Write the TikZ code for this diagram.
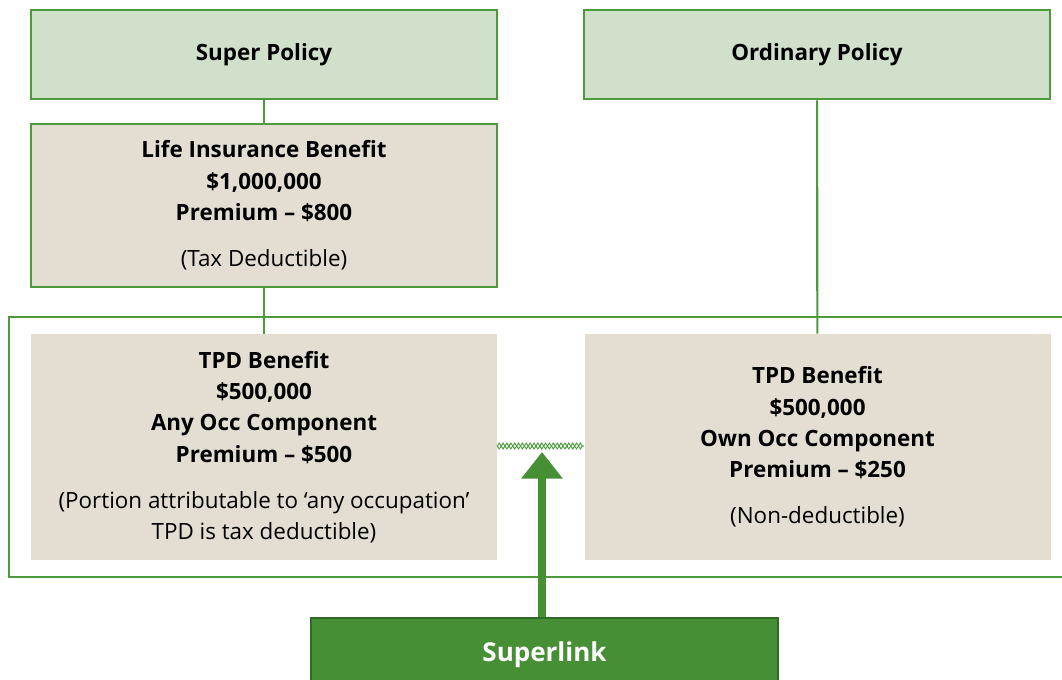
\documentclass[tikz,border=0pt]{standalone}
\usepackage{fontspec}
\setmainfont{Open Sans}
\usepackage{tikz}
\usetikzlibrary{positioning,arrows.meta,decorations.pathmorphing}

\definecolor{linegreen}{HTML}{4C9A3C}
\definecolor{palegreen}{HTML}{D1E0CB}
\definecolor{beige}{HTML}{E3DDD2}
\definecolor{darkgreen}{HTML}{478F34}
\definecolor{edgegreen}{HTML}{2F6B24}

\begin{document}
\begin{tikzpicture}[x=0.75pt,y=-0.75pt,
    txt/.style={font=\fontsize{16.8}{23.5}\selectfont, align=center},
    policy/.style={txt, rectangle, draw=linegreen, line width=1.5pt, fill=palegreen,
      minimum width=349.5pt, minimum height=66.75pt, font=\fontsize{16.8}{23.5}\selectfont\bfseries},
    benefit/.style={txt, rectangle, fill=beige, minimum width=349.5pt},
    chain/.style={linegreen, line width=0.7pt, decorate, decoration={zigzag, segment length=5.8pt, amplitude=2.2pt}},
    link/.style={linegreen, line width=1.6pt}]
    \clip (0,0) rectangle (1062,680);
    \fill[white] (0,0) rectangle (1062,680);

    % top row of policies
    \node[policy] (sup) at (264,55) {Super Policy};
    \node[policy] (ord) at (817,55) {Ordinary Policy};

    % life cover under the super policy
    \node[benefit, draw=linegreen, line width=1.5pt, minimum height=122.25pt] (life) at (264,205.5)
      {\textbf{Life Insurance Benefit}\\ \textbf{\$1,000,000}\\ \textbf{Premium -- \$800}\\[11pt] (Tax Deductible)};

    % frame round the linked TPD cover
    \draw[link] (9,317) rectangle (1080,577);

    \node[benefit, minimum height=169.5pt] (tpdA) at (264,447)
      {\textbf{TPD Benefit}\\ \textbf{\$500,000}\\ \textbf{Any Occ Component}\\ \textbf{Premium -- \$500}\\[11pt]
       (Portion attributable to ‘any occupation’\\ TPD is tax deductible)};
    \node[benefit, minimum height=169.5pt] (tpdB) at (817.5,447)
      {\textbf{TPD Benefit}\\ \textbf{\$500,000}\\ \textbf{Own Occ Component}\\ \textbf{Premium -- \$250}\\[11pt]
       (Non-deductible)};

    \draw[link] (sup) -- (life);
    \draw[link] (life) -- (tpdA);
    \draw[link] (ord) -- (tpdB);

    % chain between the two TPD parts
    \draw[chain] (tpdA.east |- 0,446) -- (tpdB.west |- 0,446);
    \draw[chain, decoration={mirror}] (tpdA.east |- 0,446) -- (tpdB.west |- 0,446);

    \node[rectangle, draw=edgegreen, line width=1.2pt, fill=darkgreen, text=white,
      minimum width=350.25pt, minimum height=60pt, font=\fontsize{19.5}{23.5}\selectfont\bfseries,
      anchor=north] (slink) at (544.5,617) {\raisebox{10pt}{Superlink}};
    \coordinate (tip) at (542,452);
    \draw[darkgreen, line width=6pt, -{Triangle[width=30pt,length=20pt]}] (slink.north -| tip) -- (tip);
\end{tikzpicture}
\end{document}
